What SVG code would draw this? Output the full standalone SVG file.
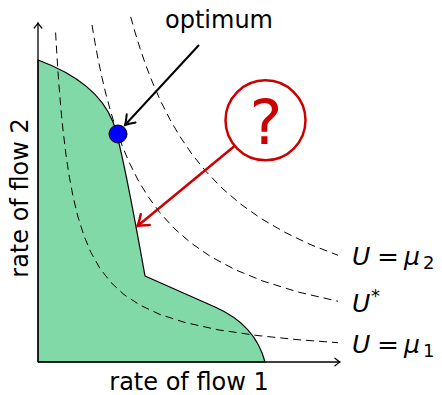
<svg xmlns="http://www.w3.org/2000/svg" width="442" height="395" viewBox="0 0 442 395">
  <style>
    .lbl { font-family: "DejaVu Sans", "Liberation Sans", sans-serif; font-size: 24px; fill: #000; }
    .math { font-family: "DejaVu Sans", "Liberation Sans", sans-serif; font-size: 25px; fill: #000; }
    .it { font-style: italic; }
    .sub { font-size: 18px; }
    .curve { fill: none; stroke: #000; stroke-width: 1; stroke-dasharray: 8 5; stroke-linejoin: round; }
    .axis { fill: none; stroke: #000; stroke-width: 1.3; }
    .region { fill: #82d9a8; stroke: #000; stroke-width: 1.2; stroke-linejoin: round; }
  </style>
  <defs>
    <marker id="axhead" markerUnits="userSpaceOnUse" viewBox="-8 -6 10 12" markerWidth="10" markerHeight="12" refX="0" refY="0" orient="auto" overflow="visible">
      <path d="M-5,-3.8 Q-1.5,-0.8 0,0 Q-1.5,0.8 -5,3.8" fill="none" stroke="#000" stroke-width="1.3" stroke-linecap="round"/>
    </marker>
    <marker id="blackhead" markerUnits="userSpaceOnUse" viewBox="-12 -8 14 16" markerWidth="14" markerHeight="16" refX="0" refY="0" orient="auto" overflow="visible">
      <path d="M-9,-6 Q-3,-1.5 0,0 Q-3,1.5 -9,6" fill="none" stroke="#000" stroke-width="2" stroke-linecap="round"/>
    </marker>
    <marker id="redhead" markerUnits="userSpaceOnUse" viewBox="-14 -9 16 18" markerWidth="16" markerHeight="18" refX="0" refY="0" orient="auto" overflow="visible">
      <path d="M-10,-7 Q-3,-1.5 0,0 Q-3,1.5 -10,7" fill="none" stroke="#cc0000" stroke-width="2.5" stroke-linecap="round"/>
    </marker>
  </defs>

  <g id="feasible-region">
    <path class="region" d="M38,362 L38,60 C76,74 102,94 113,122 C120,140 135,220 145,276 L215,307 C240,318 258,335 265,362 Z"/>
  </g>

  <g id="utility-curves">
    <path id="curve-mu1" class="curve" d="M55.6,32.5 L57,56.7 L59,85.8 L61,109.8 L63,130 L66,154.9 L69,174.9 L73,196.3 L78,217 L84,235.9 L91,252.6 L100,268.5 L111,282.5 L124,294.6 L140,305.1 L160,314.5 L185,322.5 L218,329.8 L258,335.6 L298,339.7 L338,342.7"/>
    <path id="curve-ustar" class="curve" d="M92,25 L95,42.7 L98,58.7 L102,77.6 L106,94.4 L111,112.7 L116,128.7 L122,145.3 L129,162 L138,180 L148,196.5 L160,212.8 L174,228.2 L191,243 L211,256.8 L235,269.6 L263,281.1 L298,292 L338,301.3"/>
    <path id="curve-mu2" class="curve" d="M130.7,16.8 L135,32.1 L140,48.3 L146,65.7 L153,83.7 L161,101.8 L170,119.6 L180,136.6 L192,154.2 L206,171.5 L222,188.1 L240,203.6 L261,218.5 L285,232.4 L310,244.4 L338,255.3"/>
  </g>

  <g id="axes">
    <line class="axis" x1="38" y1="362" x2="38" y2="23" marker-end="url(#axhead)"/>
    <line class="axis" x1="38" y1="362" x2="340" y2="362" marker-end="url(#axhead)"/>
    <text class="lbl" x="189" y="390" text-anchor="middle">rate of flow 1</text>
    <text class="lbl" transform="translate(28,198) rotate(-90)" text-anchor="middle">rate of flow 2</text>
  </g>

  <g id="optimum-point">
    <circle cx="118" cy="134" r="9" fill="#0000ff" stroke="#000" stroke-width="1"/>
  </g>

  <g id="optimum-label">
    <text class="lbl" x="219" y="28" text-anchor="middle">optimum</text>
  </g>

  <g id="question-node">
    <circle cx="265.5" cy="120.3" r="40" fill="#fff" stroke="#cc0000" stroke-width="2.5"/>
    <text x="266" y="144" text-anchor="middle" font-family="DejaVu Sans, sans-serif" font-size="62" fill="#cc0000">?</text>
  </g>

  <g id="curve-labels">
    <text class="math" y="265"><tspan class="it" x="352">U</tspan><tspan class="it" x="404">μ</tspan><tspan class="sub" x="423" dy="4">2</tspan></text>
    <text class="math" x="377" y="265" textLength="22" lengthAdjust="spacingAndGlyphs">=</text>
    <text class="math" y="311.5"><tspan class="it" x="352">U</tspan><tspan class="sub" x="371" dy="-10">*</tspan></text>
    <text class="math" y="353"><tspan class="it" x="352">U</tspan><tspan class="it" x="404">μ</tspan><tspan class="sub" x="423" dy="4">1</tspan></text>
    <text class="math" x="377" y="353" textLength="22" lengthAdjust="spacingAndGlyphs">=</text>
  </g>

  <g id="connectors">
    <line x1="199" y1="45" x2="125" y2="125" stroke="#000" stroke-width="2" marker-end="url(#blackhead)"/>
    <line x1="234.9" y1="145.7" x2="137.5" y2="226" stroke="#cc0000" stroke-width="2.5" marker-end="url(#redhead)"/>
  </g>
</svg>
